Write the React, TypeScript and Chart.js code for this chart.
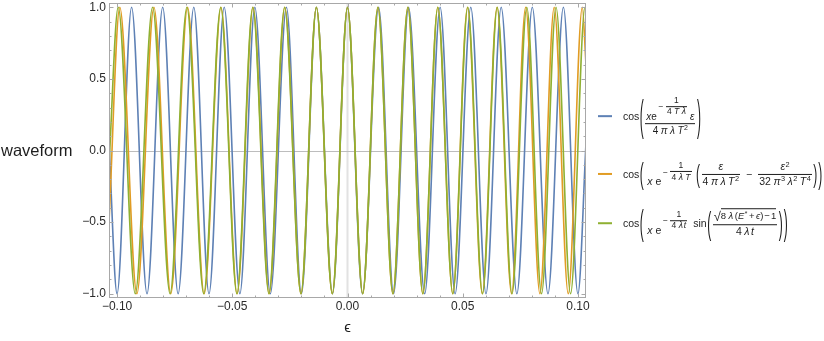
import React, { useEffect, useRef } from 'react';
import { Chart, registerables } from 'chart.js';

Chart.register(...registerables);

const FONT = "'Liberation Sans', Arial, 'DejaVu Sans', sans-serif";
const BLUE = '#5e81b5';
const ORANGE = '#e19c24';
const GREEN = '#8fb032';
const INK = '#1e1e1e';

const X_MIN = -0.1035;
const X_MAX = 0.1035;
const Y_MIN = -1.03;
const Y_MAX = 1.03;

const xTickValues = [-0.1, -0.05, 0, 0.05, 0.1];
const xMinorValues = [-0.1, -0.09, -0.08, -0.07, -0.06, -0.05, -0.04, -0.03, -0.02, -0.01, 0, 0.01, 0.02, 0.03, 0.04, 0.05, 0.06, 0.07, 0.08, 0.09, 0.1];
const yTickValues = [-1, -0.5, 0, 0.5, 1];
const yMinorValues = [-1, -0.9, -0.8, -0.7, -0.6, -0.5, -0.4, -0.3, -0.2, -0.1, 0, 0.1, 0.2, 0.3, 0.4, 0.5, 0.6, 0.7, 0.8, 0.9, 1];

const yAxisLabel = 'waveform';
const xAxisLabel = 'ϵ';

// Blue: cos(x e^{-1/(4Tλ)} ε / (4πλT²)) — extrema positions
const blueEps = [-0.1035, -0.1, -0.0937, -0.087, -0.0802, -0.0735, -0.0667, -0.0601, -0.0535, -0.0467, -0.0402, -0.0335, -0.0265, -0.02, -0.0135, -0.0065, 0, 0.0065, 0.0135, 0.02, 0.0265, 0.0335, 0.0402, 0.0467, 0.0535, 0.0601, 0.0667, 0.0735, 0.0802, 0.087, 0.0937, 0.1, 0.1035];
const blueWave = [0.05, -1, 1, -1, 1, -1, 1, -1, 1, -1, 1, -1, 1, -1, 1, -1, 1, -1, 1, -1, 1, -1, 1, -1, 1, -1, 1, -1, 1, -1, 1, -1, 0.05];

// Orange: second-order approximation
const orangeEps = [-0.1035, -0.0988, -0.0914, -0.084, -0.0767, -0.0694, -0.0622, -0.0549, -0.0479, -0.041, -0.034, -0.0272, -0.0202, -0.0135, -0.0066, 0, 0.0066, 0.0132, 0.0197, 0.0262, 0.0327, 0.0392, 0.0457, 0.0521, 0.0585, 0.0649, 0.0712, 0.0773, 0.0835, 0.0897, 0.0958, 0.1019, 0.1035];
const orangeWave = [-0.5, 1, -1, 1, -1, 1, -1, 1, -1, 1, -1, 1, -1, 1, -1, 1, -1, 1, -1, 1, -1, 1, -1, 1, -1, 1, -1, 1, -1, 1, -1, 1, 0.6];

// Green: full expression
const greenEps = [-0.1035, -0.0995, -0.0921, -0.0846, -0.077, -0.0697, -0.0624, -0.055, -0.048, -0.0411, -0.0341, -0.0273, -0.0202, -0.0135, -0.0066, 0, 0.0066, 0.0132, 0.0197, 0.0262, 0.0327, 0.0392, 0.0457, 0.0522, 0.0586, 0.065, 0.0714, 0.0778, 0.0842, 0.0905, 0.0968, 0.1031, 0.1035];
const greenWave = [-0.1, 1, -1, 1, -1, 1, -1, 1, -1, 1, -1, 1, -1, 1, -1, 1, -1, 1, -1, 1, -1, 1, -1, 1, -1, 1, -1, 1, -1, 1, -1, 1, 0.99];

const fmt = (v: number, d: number) => {
  const s = Math.abs(v).toFixed(d);
  return v < -1e-12 ? '\u2212' + s : s;
};

const isIn = (arr: number[], v: number) => arr.some((t) => Math.abs(t - v) < 1e-9);

const framePlugin = {
  id: 'mmaFrame',
  beforeDatasetsDraw(chart: any) {
    const { ctx, chartArea: a, scales } = chart;
    const x0 = scales.x.getPixelForValue(0);
    const y0 = scales.y.getPixelForValue(0);
    ctx.save();
    ctx.strokeStyle = '#e2e2e2';
    ctx.lineWidth = 2;
    ctx.beginPath();
    ctx.moveTo(x0, a.top);
    ctx.lineTo(x0, a.bottom);
    ctx.stroke();
    ctx.strokeStyle = '#bdbdbd';
    ctx.lineWidth = 1;
    ctx.beginPath();
    ctx.moveTo(a.left, Math.round(y0) + 0.5);
    ctx.lineTo(a.right, Math.round(y0) + 0.5);
    ctx.stroke();
    ctx.restore();
  },
  afterDatasetsDraw(chart: any) {
    const { ctx, chartArea: a, scales } = chart;
    ctx.save();
    ctx.strokeStyle = '#a8a8a8';
    ctx.lineWidth = 1;
    ctx.strokeRect(a.left + 0.5, a.top + 0.5, a.right - a.left - 1, a.bottom - a.top - 1);
    ctx.beginPath();
    xMinorValues.forEach((v) => {
      const px = Math.round(scales.x.getPixelForValue(v)) + 0.5;
      const len = isIn(xTickValues, v) ? 4.5 : 2.5;
      ctx.moveTo(px, a.bottom);
      ctx.lineTo(px, a.bottom - len);
      ctx.moveTo(px, a.top);
      ctx.lineTo(px, a.top + len);
    });
    yMinorValues.forEach((v) => {
      const py = Math.round(scales.y.getPixelForValue(v)) + 0.5;
      const len = isIn(yTickValues, v) ? 4.5 : 2.5;
      ctx.moveTo(a.left, py);
      ctx.lineTo(a.left + len, py);
      ctx.moveTo(a.right, py);
      ctx.lineTo(a.right - len, py);
    });
    ctx.stroke();
    ctx.restore();
  },
};

function I({ children }: { children: any }) {
  return <span style={{ fontStyle: 'italic' }}>{children}</span>;
}

function Sp({ w = 2.5 }: { w?: number }) {
  return <span style={{ display: 'inline-block', width: w }} />;
}

function Frac({ num, den, size, gap = 1 }: { num: any; den: any; size: number; gap?: number }) {
  return (
    <span style={{ display: 'inline-flex', flexDirection: 'column', alignItems: 'center', fontSize: size, lineHeight: 1.1, margin: '0 1px' }}>
      <span style={{ padding: '0 1px', whiteSpace: 'nowrap', display: 'inline-flex', alignItems: 'flex-end' }}>{num}</span>
      <span style={{ alignSelf: 'stretch', height: 0, borderTop: `1px solid ${INK}`, margin: `${gap}px 0` }} />
      <span style={{ padding: '0 1px', whiteSpace: 'nowrap' }}>{den}</span>
    </span>
  );
}

function Paren({ ch, h }: { ch: string; h: number }) {
  return (
    <span style={{ display: 'inline-block', fontSize: 12, lineHeight: '12px', transform: `scaleY(${h / 12})`, margin: '0 0.5px' }}>{ch}</span>
  );
}

function Exp({ den, lift = 5 }: { den: any; lift?: number }) {
  return (
    <span style={{ display: 'inline-flex', alignItems: 'center', fontSize: 8.5, marginBottom: lift, marginLeft: 1.5 }}>
      <span style={{ marginRight: 1.5 }}>{'\u2212'}</span>
      <Frac num="1" den={den} size={8.5} gap={0.5} />
    </span>
  );
}

function Pow({ children }: { children: any }) {
  return <span style={{ fontSize: '0.7em', position: 'relative', top: '-0.5em', marginLeft: 0.5 }}>{children}</span>;
}

function Marker({ color }: { color: string }) {
  return <span style={{ display: 'inline-block', width: 14, height: 1.5, background: color, marginRight: 11 }} />;
}

const rowStyle: any = {
  position: 'absolute',
  left: 598,
  display: 'flex',
  alignItems: 'center',
  fontFamily: FONT,
  color: INK,
  fontSize: 10.5,
  whiteSpace: 'nowrap',
  transform: 'translateY(-50%)',
};

function Legend() {
  return (
    <>
      <div style={{ ...rowStyle, top: 116 }}>
        <Marker color={BLUE} />
        <span>cos</span>
        <Paren ch="(" h={43} />
        <Frac
          size={10}
          num={
            <>
              <I>x</I>
              <span>e</span>
              <Exp den={<>4<Sp /><I>T</I><Sp /><I>λ</I></>} />
              <span style={{ marginLeft: 2 }}>
                <I>ε</I>
              </span>
            </>
          }
          den={
            <>
              4<Sp /><I>π</I><Sp /><I>λ</I><Sp /><I>T</I>
              <Pow>2</Pow>
            </>
          }
        />
        <Paren ch=")" h={43} />
      </div>

      <div style={{ ...rowStyle, top: 174 }}>
        <Marker color={ORANGE} />
        <span>cos</span>
        <Paren ch="(" h={30} />
        <span style={{ display: 'inline-flex', alignItems: 'flex-end', marginLeft: 3 }}>
          <I>x</I>
          <span style={{ marginLeft: 3 }}>e</span>
          <Exp den={<>4<Sp /><I>λ</I><Sp /><I>T</I></>} />
        </span>
        <Sp w={3} />
        <Paren ch="(" h={26} />
        <Frac size={10.5} num={<I>ε</I>} den={<>4<Sp /><I>π</I><Sp /><I>λ</I><Sp /><I>T</I><Pow>2</Pow></>} />
        <span style={{ margin: '0 5px' }}>{'\u2212'}</span>
        <Frac
          size={10.5}
          num={<><I>ε</I><Pow>2</Pow></>}
          den={<>32<Sp /><I>π</I><Pow>3</Pow><Sp /><I>λ</I><Pow>2</Pow><Sp /><I>T</I><Pow>4</Pow></>}
        />
        <Paren ch=")" h={26} />
        <Paren ch=")" h={30} />
      </div>

      <div style={{ ...rowStyle, top: 223 }}>
        <Marker color={GREEN} />
        <span>cos</span>
        <Paren ch="(" h={35} />
        <span style={{ display: 'inline-flex', alignItems: 'flex-end', marginLeft: 3 }}>
          <I>x</I>
          <span style={{ marginLeft: 3 }}>e</span>
          <Exp den={<>4<Sp /><I>λ</I><Sp w={1} /><I>t</I></>} />
        </span>
        <span style={{ marginLeft: 5 }}>sin</span>
        <Paren ch="(" h={31} />
        <Frac
          size={10.5}
          num={
            <span style={{ display: 'inline-flex', alignItems: 'flex-end' }}>
              <span style={{ fontSize: 13, lineHeight: '13px' }}>√</span>
              <span style={{ borderTop: `1px solid ${INK}`, paddingTop: 1, fontSize: 9.5, lineHeight: '12px' }}>
                8<Sp /><I>λ</I><Sp w={1.5} />(<I>E</I><Pow>*</Pow><Sp w={1.5} />+<Sp w={1.5} /><I>ϵ</I>)<Sp w={1} />−<Sp w={1} />1
              </span>
            </span>
          }
          den={<>4<Sp /><I>λ</I><Sp w={1.5} /><I>t</I></>}
        />
        <Paren ch=")" h={31} />
        <Paren ch=")" h={35} />
      </div>
    </>
  );
}

export default function App() {
  const canvasRef = useRef<HTMLCanvasElement | null>(null);

  useEffect(() => {
    const canvas = canvasRef.current;
    if (!canvas) return;
    const mk = (xs: number[], ys: number[]) => xs.map((x, i) => ({ x, y: ys[i] }));
    const common = {
      pointRadius: 0,
      borderWidth: 1.6,
      fill: false,
      tension: 0,
      cubicInterpolationMode: 'monotone' as const,
      borderJoinStyle: 'round' as const,
      borderCapStyle: 'round' as const,
    };
    const chart = new Chart(canvas, {
      type: 'line',
      data: {
        datasets: [
          { ...common, label: 'blue', data: mk(blueEps, blueWave), borderColor: BLUE, order: 3 },
          { ...common, label: 'orange', data: mk(orangeEps, orangeWave), borderColor: ORANGE, order: 2 },
          { ...common, label: 'green', data: mk(greenEps, greenWave), borderColor: GREEN, order: 1 },
        ],
      },
      options: {
        animation: false,
        responsive: false,
        devicePixelRatio: 1,
        events: [],
        layout: { padding: { left: 0, right: 238, top: 3, bottom: 0 } },
        plugins: { legend: { display: false }, tooltip: { enabled: false } },
        scales: {
          x: {
            type: 'linear',
            min: X_MIN,
            max: X_MAX,
            grid: { display: false, drawTicks: false },
            border: { display: false },
            afterBuildTicks: (s: any) => {
              s.ticks = xTickValues.map((v) => ({ value: v }));
            },
            afterFit: (s: any) => {
              s.height = 43;
              s.paddingLeft = 0;
              s.paddingRight = 0;
            },
            ticks: {
              font: { family: FONT, size: 12 },
              color: '#2a2a2a',
              padding: 1,
              maxRotation: 0,
              autoSkip: false,
              callback: (v: any) => fmt(Number(v), 2),
            },
            title: {
              display: true,
              text: xAxisLabel,
              font: { family: FONT, size: 15 },
              color: INK,
              padding: { top: 0, bottom: 4 },
            },
          },
          y: {
            type: 'linear',
            min: Y_MIN,
            max: Y_MAX,
            grid: { display: false, drawTicks: false },
            border: { display: false },
            afterBuildTicks: (s: any) => {
              s.ticks = yTickValues.map((v) => ({ value: v }));
            },
            afterFit: (s: any) => {
              s.width = 109;
              s.paddingTop = 0;
              s.paddingBottom = 0;
            },
            ticks: {
              font: { family: FONT, size: 12 },
              color: '#2a2a2a',
              padding: 3,
              autoSkip: false,
              callback: (v: any) => fmt(Number(v), 1),
            },
          },
        },
      },
      plugins: [framePlugin],
    } as any);
    return () => chart.destroy();
  }, []);

  return (
    <div style={{ position: 'fixed', left: 0, top: 0, width: 824, height: 341, background: '#fff', overflow: 'hidden' }}>
      <canvas ref={canvasRef} width={824} height={341} style={{ display: 'block' }} />
      <div
        style={{
          position: 'absolute',
          left: 1,
          top: 150,
          transform: 'translateY(-50%)',
          fontFamily: FONT,
          fontSize: 16.5,
          color: INK,
          whiteSpace: 'nowrap',
        }}
      >
        {yAxisLabel}
      </div>
      <Legend />
    </div>
  );
}
